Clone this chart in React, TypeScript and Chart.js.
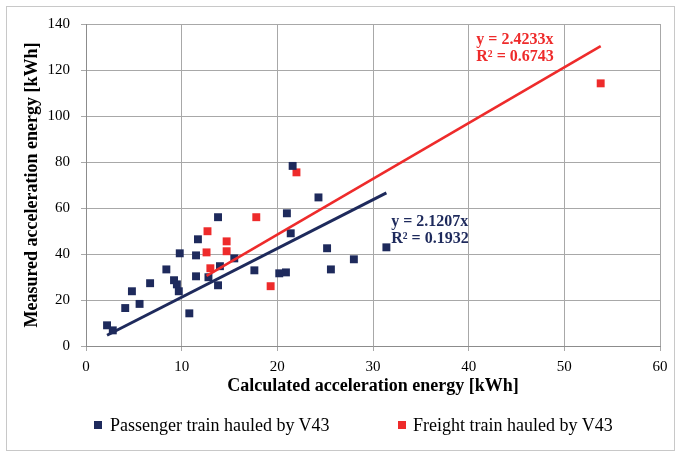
import React, { useEffect, useRef } from "react";
import { Chart, registerables } from "chart.js";

Chart.register(...registerables);

const passengerX = [2.2, 2.8, 4.1, 4.8, 5.6, 6.7, 8.4, 9.2, 9.5, 9.7, 9.8, 10.8, 11.5, 11.5, 11.7, 12.8, 13.8, 13.8, 14.0, 15.5, 17.6, 20.2, 20.9, 21.0, 21.4, 21.6, 24.3, 25.2, 25.6, 28.0, 31.4];
const passengerY = [9.0, 6.8, 16.5, 23.8, 18.3, 27.3, 33.3, 28.6, 26.8, 23.8, 40.3, 14.2, 39.4, 30.3, 46.4, 29.9, 56.0, 26.4, 34.7, 38.1, 32.9, 31.6, 32.0, 57.7, 49.0, 78.3, 64.6, 42.5, 33.3, 37.7, 42.9];
const freightX = [12.6, 12.7, 13.0, 14.7, 14.7, 17.8, 19.3, 22.0, 53.8];
const freightY = [40.7, 49.9, 33.8, 45.5, 41.2, 56.0, 26.0, 75.5, 114.2];

const passengerSlope = 2.1207;
const freightSlope = 2.4233;
const passengerR2 = 0.1932;
const freightR2 = 0.6743;

const seriesNames = ["Passenger train hauled by V43", "Freight train hauled by V43"];

const NAVY = "#1E2A5C";
const RED = "#EE2B2B";
const SERIF = "'Liberation Serif', 'Times New Roman', serif";

function pts(xs: number[], ys: number[]) {
  return xs.map((x, i) => ({ x, y: ys[i] }));
}
function trend(xs: number[], slope: number) {
  const mn = Math.min(...xs);
  const mx = Math.max(...xs);
  return [
    { x: mn, y: mn * slope },
    { x: mx, y: mx * slope },
  ];
}

const annotationPlugin = {
  id: "eqLabels",
  afterDatasetsDraw(chart: any) {
    const { ctx, scales } = chart;
    const xs = scales.x;
    const ys = scales.y;
    ctx.save();
    ctx.font = `bold 16px ${SERIF}`;
    ctx.textBaseline = "middle";
    ctx.textAlign = "left";
    ctx.fillStyle = NAVY;
    ctx.fillText(`y = ${passengerSlope.toFixed(4)}x`, xs.getPixelForValue(31.9), ys.getPixelForValue(54));
    ctx.fillText(`R² = ${passengerR2.toFixed(4)}`, xs.getPixelForValue(31.9), ys.getPixelForValue(46.4));
    ctx.fillStyle = RED;
    ctx.fillText(`y = ${freightSlope.toFixed(4)}x`, xs.getPixelForValue(40.8), ys.getPixelForValue(133));
    ctx.fillText(`R² = ${freightR2.toFixed(4)}`, xs.getPixelForValue(40.8), ys.getPixelForValue(125.6));
    ctx.restore();
  },
};

export default function App() {
  const ref = useRef<HTMLCanvasElement | null>(null);
  useEffect(() => {
    if (!ref.current) return;
    const chart = new Chart(ref.current, {
      type: "scatter",
      data: {
        datasets: [
          {
            label: "trend1",
            data: trend(passengerX, passengerSlope),
            showLine: true,
            borderColor: NAVY,
            borderWidth: 3,
            pointRadius: 0,
            order: 0,
          },
          {
            label: "trend2",
            data: trend(freightX, freightSlope),
            showLine: true,
            borderColor: RED,
            borderWidth: 2.6,
            pointRadius: 0,
            order: 0,
          },
          {
            label: seriesNames[0],
            data: pts(passengerX, passengerY),
            pointStyle: "rect",
            pointRadius: 5.6,
            pointBorderWidth: 0,
            backgroundColor: NAVY,
            borderColor: NAVY,
            order: 1,
          },
          {
            label: seriesNames[1],
            data: pts(freightX, freightY),
            pointStyle: "rect",
            pointRadius: 5.6,
            pointBorderWidth: 0,
            backgroundColor: RED,
            borderColor: RED,
            order: 1,
          },
        ],
      },
      options: {
        animation: false,
        responsive: false,
        maintainAspectRatio: false,
        layout: { padding: { top: 24, right: 18, bottom: 50, left: 0 } },
        plugins: {
          legend: { display: false },
          tooltip: { enabled: false },
        },
        scales: {
          x: {
            type: "linear",
            min: 0,
            max: 60,
            ticks: { stepSize: 10, color: "#000", padding: 7, font: { family: SERIF, size: 15 } },
            grid: { color: "#A8A8A8", tickLength: 5, drawTicks: true },
            border: { color: "#8C8C8C" },
            title: {
              display: true,
              text: "Calculated acceleration energy [kWh]",
              color: "#000",
              font: { family: SERIF, size: 18, weight: "bold" },
              padding: { top: 0, bottom: 9 },
            },
            afterFit: (s: any) => {
              s.height = 60;
            },
          },
          y: {
            type: "linear",
            min: 0,
            max: 140,
            ticks: { stepSize: 20, color: "#000", padding: 11, font: { family: SERIF, size: 15 } },
            grid: { color: "#A8A8A8", tickLength: 5, drawTicks: true },
            border: { color: "#8C8C8C" },
            title: {
              display: true,
              text: "Measured acceleration energy [kWh]",
              color: "#000",
              font: { family: SERIF, size: 18, weight: "bold" },
              padding: { top: 22, bottom: 0 },
            },
            afterFit: (s: any) => {
              s.width = 86;
            },
          },
        },
      },
      plugins: [annotationPlugin],
    });
    return () => chart.destroy();
  }, []);

  const legendText: React.CSSProperties = {
    position: "absolute",
    top: 413,
    fontFamily: SERIF,
    fontSize: 18,
    color: "#000",
    lineHeight: "24px",
    whiteSpace: "nowrap",
  };
  const box = (c: string, left: number): React.CSSProperties => ({
    position: "absolute",
    left,
    top: 421,
    width: 8,
    height: 8,
    background: c,
  });

  return (
    <div style={{ position: "absolute", left: 0, top: 0, width: 678, height: 456, background: "#fff" }}>
      <div
        style={{
          position: "absolute",
          left: 6,
          top: 6,
          width: 669,
          height: 445,
          border: "1px solid #C8C8C8",
          boxSizing: "border-box",
        }}
      />
      <canvas ref={ref} width={678} height={456} style={{ position: "absolute", left: 0, top: 0 }} />
      <div style={box(NAVY, 94)} />
      <div style={{ ...legendText, left: 110 }}>{seriesNames[0]}</div>
      <div style={box(RED, 398)} />
      <div style={{ ...legendText, left: 413 }}>{seriesNames[1]}</div>
    </div>
  );
}
